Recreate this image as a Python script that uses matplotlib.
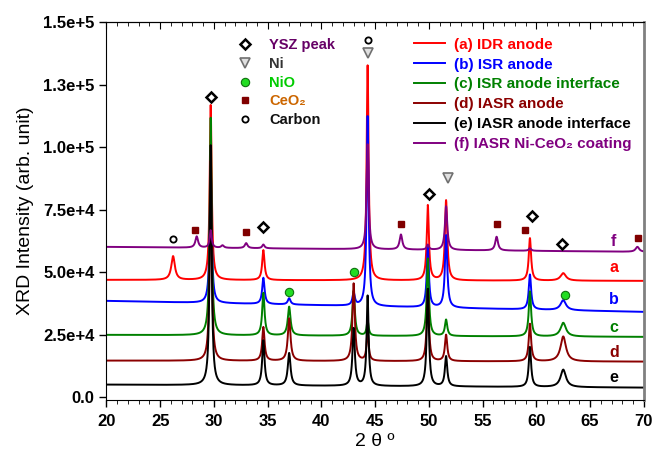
import numpy as np
import matplotlib

matplotlib.use("Agg")
import matplotlib.pyplot as plt
from matplotlib.lines import Line2D

plt.rcParams["font.family"] = ["Liberation Sans", "DejaVu Sans"]

# peak positions (2 theta) shared by all patterns, and their half widths
peak_pos = [26.2, 28.4, 29.7, 30.8, 33.0, 34.6, 37.0, 43.0, 44.3, 47.4, 49.9, 51.6, 56.3, 59.4, 62.5, 69.4]
peak_hw = [0.2, 0.15, 0.11, 0.15, 0.15, 0.13, 0.15, 0.13, 0.11, 0.15, 0.12, 0.13, 0.15, 0.13, 0.3, 0.2]

# peak heights above baseline per pattern
peaks_a = [9500, 0, 70000, 0, 0, 12000, 0, 0, 86000, 0, 30000, 32000, 0, 17000, 3000, 0]
peaks_b = [0, 0, 55000, 0, 0, 10500, 2500, 5000, 76000, 0, 24000, 29000, 0, 14000, 4000, 0]
peaks_c = [0, 0, 87000, 0, 0, 17000, 11500, 18000, 6000, 0, 31000, 6500, 0, 18000, 5500, 0]
peaks_d = [0, 0, 80000, 0, 0, 13500, 17000, 31000, 12000, 0, 28000, 10500, 0, 15000, 10000, 0]
peaks_e = [0, 0, 96000, 0, 0, 18000, 13000, 23000, 36000, 0, 39000, 12000, 0, 16000, 7000, 0]
peaks_f = [0, 4500, 7000, 1000, 2000, 1500, 0, 0, 42000, 6000, 2000, 17500, 5500, 1000, 0, 2000]

# baseline at 20 and 70 degrees
base_a = [47000, 46600]
base_b = [38600, 34200]
base_c = [25000, 24200]
base_d = [14700, 14300]
base_e = [5100, 3900]
base_f = [60200, 58200]

labels = ["(a) IDR anode", "(b) ISR anode", "(c) ISR anode interface",
          "(d) IASR anode", "(e) IASR anode interface", "(f) IASR Ni-CeO\u2082 coating"]
short = ["a", "b", "c", "d", "e", "f"]
colors = ["#ff0000", "#0000ff", "#008000", "#8b0000", "#000000", "#800080"]
letter_y = [51800, 39000, 27800, 17800, 7900, 62300]

# phase markers
ysz_x = [29.7, 34.6, 50.0, 59.6, 62.4]
ysz_y = [120200, 68000, 81400, 72700, 61300]
ni_x = [44.3, 51.8]
ni_y = [137600, 87800]
nio_x = [37.0, 43.0, 62.65]
nio_y = [42200, 50200, 41000]
ceo2_x = [28.2, 33.0, 47.4, 56.3, 58.9, 69.45]
ceo2_y = [67000, 66000, 69300, 69300, 67000, 63700]
carbon_x = [26.2, 44.3]
carbon_y = [63400, 142900]

yticks = [0, 25000, 50000, 75000, 100000, 125000, 150000]
yticklabels = ["0.0", "2.5e+4", "5.0e+4", "7.5e+4", "1.0e+5", "1.3e+5", "1.5e+5"]


def pattern(x, heights, base):
    y = np.linspace(base[0], base[1], len(x))
    for p, w, h in zip(peak_pos, peak_hw, heights):
        y = y + h * w**2 / ((x - p) ** 2 + w**2)
    return y


x = np.arange(20, 70.001, 0.02)
series = [(peaks_a, base_a), (peaks_b, base_b), (peaks_c, base_c),
          (peaks_d, base_d), (peaks_e, base_e), (peaks_f, base_f)]

fig = plt.figure(figsize=(6.57, 4.57), dpi=100)
ax = fig.add_axes([0.162, 0.125, 0.818, 0.826])

line_handles = []
for (pk, bs), lab, col in zip(series, labels, colors):
    (h,) = ax.plot(x, pattern(x, pk, bs), color=col, lw=1.4, label=lab)
    line_handles.append(h)

for s, col, yy in zip(short, colors, letter_y):
    ax.text(67.2, yy, s, color=col, fontsize=11.5, fontweight="bold", ha="center", va="center")

ax.plot(ysz_x, ysz_y, "D", ms=5.5, mfc="white", mec="black", mew=1.8, ls="none")
ax.plot(ni_x, ni_y, "v", ms=6.5, mfc="#e0e0e0", mec="#707070", mew=1.2, ls="none")
ax.plot(nio_x, nio_y, "o", ms=6, mfc="#22dd22", mec="#107010", mew=0.8, ls="none")
ax.plot(ceo2_x, ceo2_y, "s", ms=5, mfc="#800000", mec="#800000", ls="none")
ax.plot(carbon_x, carbon_y, "o", ms=4.5, mfc="white", mec="black", mew=1.3, ls="none")

ax.set_xlim(20, 70)
ax.set_ylim(-1000, 150000)
ax.set_xticks(np.arange(20, 71, 5))
ax.set_xticks(np.arange(20, 71, 1), minor=True)
ax.set_yticks(yticks)
ax.set_yticklabels(yticklabels)
ax.tick_params(axis="both", labelsize=12, width=1)
for lab in ax.get_xticklabels() + ax.get_yticklabels():
    lab.set_fontweight("bold")
ax.tick_params(axis="x", which="major", direction="out", length=5, pad=5)
ax.tick_params(axis="x", which="minor", direction="out", length=3)
ax.tick_params(axis="y", which="major", direction="out", length=5)
ax.spines["right"].set_color("#808080")
ax.spines["right"].set_linewidth(2)

top = ax.secondary_xaxis("top")
top.set_xticks(np.arange(20, 71, 5))
top.set_xticks(np.arange(20, 71, 1), minor=True)
top.tick_params(which="major", direction="in", length=5, labeltop=False)
top.tick_params(which="minor", direction="in", length=3)

ax.set_xlabel("2 \u03b8 \u00ba", fontsize=14, labelpad=3)
ax.set_ylabel("XRD Intensity (arb. unit)", fontsize=14, labelpad=7)

marker_handles = [
    Line2D([], [], marker="D", ms=5.5, mfc="white", mec="black", mew=1.8, ls="none"),
    Line2D([], [], marker="v", ms=6.5, mfc="#e0e0e0", mec="#707070", mew=1.2, ls="none"),
    Line2D([], [], marker="o", ms=6, mfc="#22dd22", mec="#107010", mew=0.8, ls="none"),
    Line2D([], [], marker="s", ms=5, mfc="#800000", mec="#800000", ls="none"),
    Line2D([], [], marker="o", ms=4.5, mfc="white", mec="black", mew=1.3, ls="none"),
]
marker_labels = ["YSZ peak", "Ni", "NiO", "CeO\u2082", "Carbon"]
marker_colors = ["#660066", "#333333", "#00cc00", "#cc6600", "#111111"]

leg1 = ax.legend(marker_handles, marker_labels, loc="upper left", bbox_to_anchor=(0.230, 0.978),
                 frameon=False, borderpad=0, handlelength=1.0, handletextpad=1.2,
                 labelspacing=0.33, prop={"size": 10.5, "weight": "bold"}, labelcolor=marker_colors)
ax.add_artist(leg1)
ax.legend(line_handles, labels, loc="upper left", bbox_to_anchor=(0.559, 0.980),
          frameon=False, borderpad=0, handlelength=2.0, handletextpad=0.6,
          labelspacing=0.39, prop={"size": 11, "weight": "bold"}, labelcolor="linecolor")

fig.savefig("out.png", dpi=100)
